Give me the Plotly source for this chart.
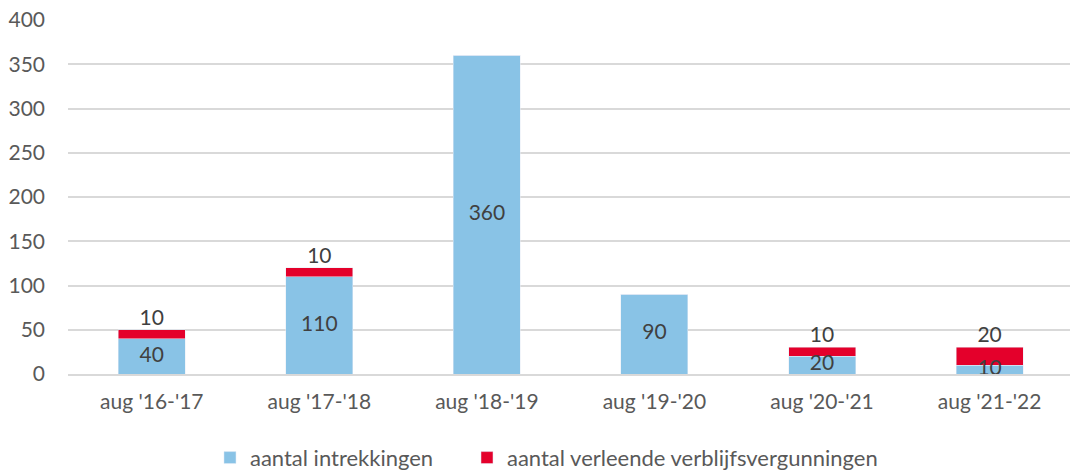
import plotly.graph_objects as go

periods = ["aug '16-'17", "aug '17-'18", "aug '18-'19", "aug '19-'20", "aug '20-'21", "aug '21-'22"]
intrekkingen = [40, 110, 360, 90, 20, 10]
vergunningen = [10, 10, 0, 0, 10, 20]
y_ticks = [0, 50, 100, 150, 200, 250, 300, 350, 400]

BLUE = "#89C3E6"
RED = "#E4002B"
FONT = "Lato"

fig = go.Figure()

fig.add_trace(go.Bar(
    x=periods, y=intrekkingen, name="aantal intrekkingen",
    marker=dict(color=BLUE), width=0.4, hoverinfo="x+y", legend="legend",
))
fig.add_trace(go.Bar(
    x=periods, y=vergunningen, name="aantal verleende verblijfsvergunningen",
    marker=dict(color=RED), width=0.4, hoverinfo="x+y", legend="legend2",
))

# labels for the blue segments, centred in the segment
fig.add_trace(go.Scatter(
    x=periods, y=[v / 2 for v in intrekkingen],
    mode="text", text=[str(v) for v in intrekkingen],
    textposition="middle center",
    textfont=dict(family=FONT, size=21, color="#404040"),
    showlegend=False, hoverinfo="skip", cliponaxis=False,
))

# labels for the red segments, above the stack
red_x = [p for p, v in zip(periods, vergunningen) if v > 0]
red_y = [a + b for a, b in zip(intrekkingen, vergunningen) if b > 0]
red_t = [str(v) for v in vergunningen if v > 0]
fig.add_trace(go.Scatter(
    x=red_x, y=red_y, mode="text", text=red_t,
    textposition="top center",
    textfont=dict(family=FONT, size=21, color="#404040"),
    showlegend=False, hoverinfo="skip", cliponaxis=False,
))

legend_style = dict(
    orientation="h", xanchor="left", yref="container", y=0.026, yanchor="middle",
    font=dict(family=FONT, size=22, color="#595959"),
)

fig.update_layout(
    barmode="stack",
    width=1070, height=470,
    margin=dict(l=68, r=0, t=20, b=96),
    plot_bgcolor="white",
    paper_bgcolor="white",
    font=dict(family=FONT, size=20, color="#595959"),
    legend=dict(x=0.1417, **legend_style),
    legend2=dict(x=0.3982, **legend_style),
    xaxis=dict(
        range=[-0.5, 5.48],
        showgrid=False, showline=True, linecolor="#D9D9D9", linewidth=1.5,
        ticks="", tickfont=dict(size=21), ticklabelstandoff=8,
    ),
    yaxis=dict(
        range=[0, 400], tickvals=y_ticks,
        showgrid=True, gridcolor="#D9D9D9", gridwidth=1.5,
        zeroline=False, showline=False, ticks="",
        ticklabelstandoff=22, tickfont=dict(size=21),
    ),
)

# drop the default body margin so the figure sits at the window corner
fig.write_html(
    "out.html",
    config={"displayModeBar": False},
    post_script="document.body.style.margin = '0';",
)
